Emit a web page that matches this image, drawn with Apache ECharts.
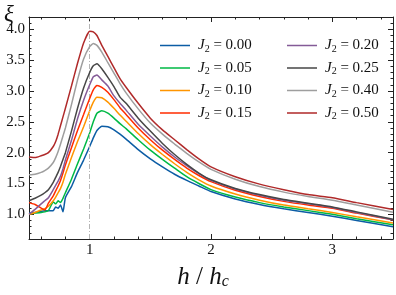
<!DOCTYPE html>
<html><head><meta charset="utf-8">
<script src="https://cdn.jsdelivr.net/npm/echarts@6/dist/echarts.min.js"></script>
<style>html,body{margin:0;padding:0;background:#fff}#c{width:396px;height:295px}</style>
</head><body><div id="c"></div>
<script>
const xs = [0.5,0.55,0.6,0.63,0.66,0.7,0.72,0.74,0.76,0.78,0.8,0.85,0.9,0.95,1.0,1.03,1.06,1.1,1.15,1.2,1.25,1.3,1.4,1.5,1.6,1.7,1.8,1.9,2.0,2.2,2.4,2.6,2.8,3.0,3.2,3.5];
const labels = ['0.00','0.05','0.10','0.15','0.20','0.25','0.40','0.50'];
const colors = ['#0C5DA5','#00B945','#FF9500','#FF2C00','#845B97','#474747','#9e9e9e','#B02A2A'];
const y000 = [1.02,1.03,1.05,1.06,1.06,1.06,1.12,1.10,1.15,1.04,1.27,1.45,1.68,1.88,2.10,2.24,2.36,2.43,2.42,2.37,2.30,2.22,2.05,1.90,1.77,1.65,1.55,1.46,1.37,1.25,1.16,1.09,1.03,0.97,0.90,0.80];
const y005 = [1.01,1.02,1.03,1.04,1.06,1.20,1.17,1.22,1.19,1.26,1.35,1.57,1.82,2.06,2.32,2.50,2.64,2.68,2.64,2.56,2.47,2.39,2.21,2.04,1.89,1.75,1.61,1.50,1.40,1.28,1.19,1.12,1.06,1.00,0.93,0.83];
const y010 = [1.00,1.03,1.07,1.09,1.13,1.22,1.28,1.35,1.42,1.52,1.65,1.92,2.18,2.42,2.68,2.82,2.90,2.89,2.82,2.72,2.61,2.51,2.31,2.13,1.97,1.82,1.68,1.56,1.46,1.33,1.23,1.15,1.09,1.03,0.96,0.86];
const y015 = [1.19,1.16,1.10,1.07,1.18,1.30,1.38,1.46,1.55,1.67,1.80,2.08,2.36,2.62,2.88,3.02,3.09,3.06,2.98,2.86,2.73,2.62,2.40,2.21,2.04,1.89,1.75,1.63,1.53,1.39,1.29,1.21,1.15,1.10,1.02,0.91];
const y020 = [1.00,1.08,1.17,1.22,1.27,1.40,1.47,1.54,1.62,1.74,1.88,2.20,2.55,2.85,3.10,3.23,3.26,3.18,3.08,2.92,2.80,2.69,2.46,2.27,2.09,1.93,1.79,1.66,1.55,1.41,1.31,1.23,1.17,1.11,1.03,0.91];
const y025 = [1.22,1.26,1.31,1.35,1.40,1.52,1.60,1.68,1.78,1.89,2.00,2.35,2.72,3.05,3.30,3.41,3.44,3.36,3.22,3.07,2.90,2.80,2.56,2.35,2.15,1.97,1.81,1.67,1.56,1.42,1.32,1.24,1.18,1.12,1.04,0.92];
const y040 = [1.64,1.65,1.68,1.71,1.75,1.84,1.92,2.02,2.14,2.27,2.40,2.78,3.18,3.52,3.72,3.77,3.74,3.63,3.46,3.29,3.12,2.97,2.71,2.48,2.30,2.14,1.99,1.85,1.73,1.57,1.45,1.36,1.29,1.23,1.15,1.035];
const y050 = [1.93,1.92,1.95,1.97,2.00,2.10,2.18,2.30,2.44,2.58,2.72,3.08,3.45,3.78,3.97,3.96,3.90,3.74,3.56,3.38,3.20,3.06,2.80,2.56,2.37,2.21,2.05,1.90,1.77,1.61,1.49,1.40,1.32,1.27,1.19,1.08];
const xMajor = [1,2,3];
const yMajor = [1.0,1.5,2.0,2.5,3.0,3.5,4.0];
const ySeries = [y000,y005,y010,y015,y020,y025,y040,y050];

const XMIN=0.5, XMAX=3.5, YMIN=0.6, YMAX=4.2;
const xMinor=[]; for(let v=6; v<=34; v+=2){ if(v%10!==0) xMinor.push(v/10); }
const yMinor=[]; for(let v=7; v<=42; v++){ if(v%5!==0) yMinor.push(v/10); }
const FONT='Liberation Serif';
const axisLine={show:true,lineStyle:{color:'#222',width:1}};
function xa(pos,vals,len,lab,line){
  return {type:'value',position:pos,min:XMIN,max:XMAX,gridIndex:0,
    axisLine: line?axisLine:{show:false},
    axisTick:{show:true,inside:true,length:len,customValues:vals,lineStyle:{color:'#222',width:1}},
    axisLabel:lab?{show:true,customValues:vals,fontFamily:FONT,fontSize:15,color:'#111',margin:4,formatter:v=>String(v)}:{show:false},
    splitLine:{show:false}};
}
function ya(pos,vals,len,lab,line){
  return {type:'value',position:pos,min:YMIN,max:YMAX,gridIndex:0,
    axisLine: line?axisLine:{show:false},
    axisTick:{show:true,inside:true,length:len,customValues:vals,lineStyle:{color:'#222',width:1}},
    axisLabel:lab?{show:true,customValues:vals,fontFamily:FONT,fontSize:15,color:'#111',margin:4,formatter:v=>v.toFixed(1)}:{show:false},
    splitLine:{show:false}};
}
const xAxes=[xa('bottom',xMajor,5,true,true),xa('bottom',xMinor,2.5,false,false),xa('top',xMajor,5,false,true),xa('top',xMinor,2.5,false,false)];
xAxes[0].name='{i|h}{n| / }{i|h}{s|c}';
xAxes[0].nameLocation='middle';
xAxes[0].nameGap=25;
xAxes[0].nameTextStyle={padding:[0,16,0,0],rich:{i:{fontFamily:FONT,fontStyle:'italic',fontSize:25,color:'#111'},n:{fontFamily:FONT,fontSize:25,color:'#111'},s:{fontFamily:FONT,fontStyle:'italic',fontSize:16,color:'#111',padding:[10,0,0,0]}}};
const yAxes=[ya('left',yMajor,5,true,true),ya('left',yMinor,2.5,false,false),ya('right',yMajor,5,false,true),ya('right',yMinor,2.5,false,false)];

const series = ySeries.map((ys,k)=>({
  name:labels[k], type:'line', xAxisIndex:0, yAxisIndex:0, symbol:'none', smooth:0.15,
  lineStyle:{color:colors[k],width:1.5}, itemStyle:{color:colors[k]},
  data: xs.map((x,i)=>[x,ys[i]]),
  z: 2+k
}));
series[0].markLine={symbol:'none',silent:true,label:{show:false},
  lineStyle:{type:[5,2,1,2],color:'#b5b5b5',width:1},data:[{xAxis:1}]};

const legendRich={j:{fontFamily:FONT,fontStyle:'italic',fontSize:15,color:'#111'},
  s:{fontFamily:FONT,fontSize:10,color:'#111',padding:[7,0,0,0]},
  n:{fontFamily:FONT,fontSize:15,color:'#111'}};
const lineIcon='path://M0,0L0.01,0L0,0.01Z M0,6.2L30,6.2L30,7.8L0,7.8Z M0,14L0.01,14L0,13.99Z';
function lg(left,names){
  return {orient:'vertical',left:left,top:33,itemWidth:30,itemHeight:14,itemGap:6.5,
    icon:lineIcon,data:names,selectedMode:false,
    formatter:n=>'{j|J}{s|2}{n| = '+n+'}',
    textStyle:{rich:legendRich,padding:[0,0,0,3]}};
}
const chart=echarts.init(document.getElementById('c'),null,{renderer:'canvas'});
chart.setOption({
  animation:false,
  backgroundColor:'#fff',
  grid:{left:29,right:3,top:17,bottom:42,containLabel:false},
  xAxis:xAxes, yAxis:yAxes,
  legend:[lg(155,labels.slice(0,4)),lg(282,labels.slice(4))],
  graphic:[{type:'text',left:4,top:3,style:{text:'ξ',fontFamily:FONT,fontStyle:'italic',fontSize:23,fill:'#111'}}],
  series:series
});
</script></body></html>
